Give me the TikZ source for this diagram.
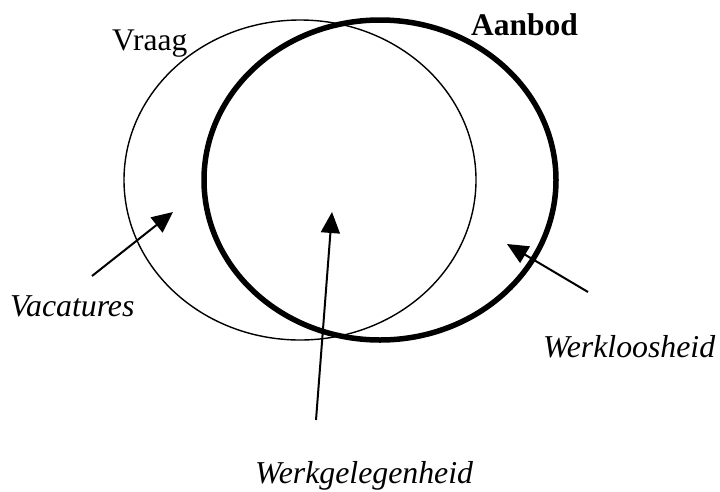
\documentclass[tikz,border=0pt]{standalone}
\usepackage{fontspec}
\setmainfont{Liberation Serif}
\usetikzlibrary{arrows.meta}
\begin{document}
\begin{tikzpicture}[x=1pt,y=-1pt,
  lbl/.style={inner sep=0pt,anchor=base west,font=\fontsize{31.5}{37}\selectfont},
  ilbl/.style={lbl,font=\fontsize{31.8}{37}\selectfont\itshape},
  ptr/.style={line width=2pt,-{Triangle[length=21pt,width=19pt]}}]
\useasboundingbox (0,0) rectangle (720,491);
% circles
\draw[line width=1.4pt] (300,180) ellipse [x radius=176, y radius=160];
\draw[line width=5.5pt] (380,180) ellipse [x radius=176, y radius=160];
% labels
\node[lbl] (vraag) at (112,50) {Vraag};
\node[lbl,font=\fontsize{31.5}{37}\selectfont\bfseries] (aanbod) at (471,35) {Aanbod};
\node[ilbl] (vac) at (10,316) {Vacatures};
\node[ilbl] (werkl) at (543,357) {Werkloosheid};
\node[ilbl] (werkg) at (255,483) {Werkgelegenheid};
% arrows
\coordinate (a1s) at (92,276);  \coordinate (a1e) at (173,212);
\coordinate (a2s) at (316,420); \coordinate (a2e) at (332,212);
\coordinate (a3s) at (588,292); \coordinate (a3e) at (507,244);
\draw[ptr] (a1s) -- (a1e);
\draw[ptr] (a2s) -- (a2e);
\draw[ptr] (a3s) -- (a3e);
\end{tikzpicture}
\end{document}
